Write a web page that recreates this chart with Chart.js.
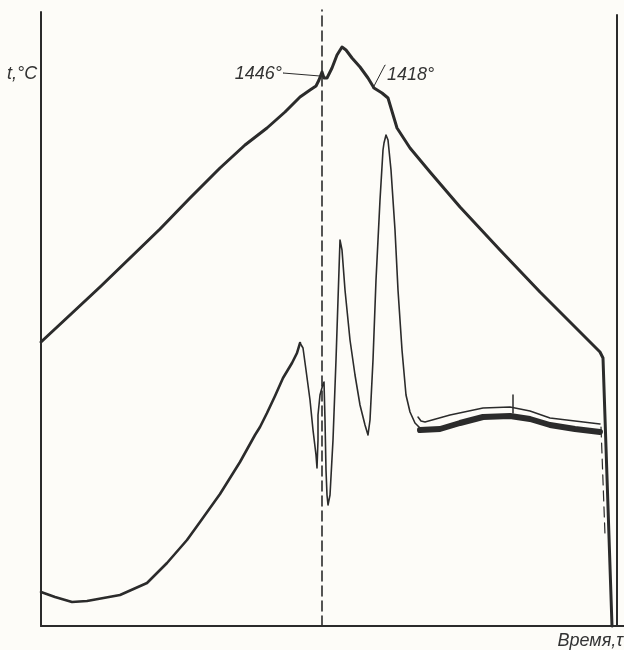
<!DOCTYPE html>
<html lang="ru">
<head>
  <meta charset="UTF-8">
  <title>Термограмма</title>
  <script src="https://cdn.jsdelivr.net/npm/chart.js"></script>
  <style>
    body {
      margin: 0;
      background: #fdfcf8;
    }
    canvas {
      display: block;
    }
  </style>
</head>
<body>
  <canvas id="chart" width="624" height="650"></canvas>
  <script>
    // Values: x = time, y = signal (arbitrary units)
    const heatingX = [0, 29, 59, 89, 119, 149, 179, 204, 226, 244, 259, 269, 275, 278, 281, 283, 286, 291, 296, 301, 305, 311, 319, 327, 333, 341, 347, 356, 369, 389, 419, 459, 499, 529, 559, 562, 571];
    const heatingY = [284, 311, 339, 368, 397, 428, 458, 481, 498, 514, 529, 536, 540, 546, 554, 548, 548, 558, 571, 579, 576, 568, 559, 548, 538, 533, 528, 498, 478, 454, 419, 376, 334, 304, 274, 268, 0];

    const dtaStartX = [0, 14, 31, 46, 79, 106, 126, 146, 159, 179, 199, 214, 219, 226, 234, 242, 251, 256, 259];
    const dtaStartY = [34, 29, 24, 25, 31, 43, 63, 86, 104, 132, 164, 191, 199, 213, 230, 248, 263, 273, 283];

    const dtaPeaksX = [259, 262, 265, 269, 272, 275, 276, 277, 277, 279, 282, 283, 284, 285, 286, 287, 289, 292, 295, 297, 299, 301, 304, 309, 314, 319, 324, 327, 329, 332, 335, 339, 342, 343, 345, 347, 350, 354, 357, 361, 365, 369, 374, 379];
    const dtaPeaksY = [283, 278, 256, 226, 196, 171, 158, 186, 211, 231, 242, 244, 206, 156, 131, 121, 131, 186, 266, 326, 386, 376, 336, 286, 251, 221, 201, 191, 206, 266, 346, 426, 476, 483, 491, 486, 456, 396, 336, 276, 231, 214, 203, 198];

    const baseX = [379, 399, 419, 442, 469, 489, 509, 534, 559];
    const baseY = [196, 197, 203, 209, 210, 207, 201, 197, 194];

    const refX = [377, 380, 384, 409, 442, 469, 489, 509, 534, 559];
    const refY = [209, 205, 204, 211, 218, 219, 215, 208, 205, 202];

    const markX = [472, 472];
    const markY = [231, 213];

    const tailX = [560, 564];
    const tailY = [199, 91];

    const meltX = 281;
    const annoLabels = ['1446°', '1418°'];
    const leader1446X = [242, 279];
    const leader1446Y = [553, 550];
    const leader1418X = [344, 332];
    const leader1418Y = [561, 538];

    const xLabel = 'Время,τ';
    const yLabel = 't,°C';

    const X_MAX = 583;
    const Y_MAX = 616;

    const ink = '#2b2b2b';

    function pts(xs, ys) {
      return xs.map((x, i) => ({ x: x, y: ys[i] }));
    }

    function line(xs, ys, width, dash) {
      return {
        data: pts(xs, ys),
        showLine: true,
        borderColor: ink,
        borderWidth: width,
        borderDash: dash || [],
        pointRadius: 0,
        tension: 0,
        fill: false,
        clip: false,
        borderJoinStyle: 'round',
        borderCapStyle: 'round'
      };
    }

    // Frame: left axis, bottom axis, right border
    const frame = [
      line([0, 0], [0, 614], 2),
      line([0, X_MAX], [0, 0], 2),
      line([576, 576], [0, 611], 2)
    ];

    // Labels drawn next to the axes and the leader lines
    const textPlugin = {
      id: 'texts',
      afterDatasetsDraw(chart) {
        const ctx = chart.ctx;
        const xs = chart.scales.x;
        const ys = chart.scales.y;
        ctx.save();
        ctx.fillStyle = '#333';
        ctx.font = 'italic 18px "Liberation Sans Narrow", "Liberation Sans", Arial, sans-serif';
        ctx.textBaseline = 'alphabetic';
        ctx.textAlign = 'right';
        ctx.fillText(annoLabels[0], xs.getPixelForValue(leader1446X[0]) - 1, ys.getPixelForValue(leader1446Y[0]) + 6);
        ctx.textAlign = 'left';
        ctx.fillText(annoLabels[1], xs.getPixelForValue(leader1418X[0]) + 2, ys.getPixelForValue(leader1418Y[0]) + 15);
        ctx.font = 'italic 18px "Liberation Sans Narrow", "Liberation Sans", Arial, sans-serif';
        ctx.textAlign = 'left';
        ctx.fillText(yLabel, 7, 79);
        ctx.textAlign = 'right';
        ctx.fillText(xLabel, 623, 646);
        ctx.restore();
      }
    };

    new Chart(document.getElementById('chart'), {
      type: 'scatter',
      data: {
        datasets: [
          ...frame,
          line([meltX, meltX], [0, Y_MAX], 1.6, [10, 5]),
          line(heatingX, heatingY, 3),
          line(dtaStartX, dtaStartY, 2.6),
          line(dtaPeaksX, dtaPeaksY, 1.6),
          line(baseX, baseY, 6),
          line(refX, refY, 1.5),
          line(markX, markY, 1.5),
          line(tailX, tailY, 1.2, [10, 6]),
          line(leader1446X, leader1446Y, 1),
          line(leader1418X, leader1418Y, 1)
        ]
      },
      options: {
        responsive: false,
        animation: false,
        layout: { padding: { left: 41, right: 0, top: 10, bottom: 24 } },
        scales: {
          x: { type: 'linear', min: 0, max: X_MAX, display: false },
          y: { type: 'linear', min: 0, max: Y_MAX, display: false }
        },
        plugins: {
          legend: { display: false },
          tooltip: { enabled: false }
        }
      },
      plugins: [textPlugin]
    });
  </script>
</body>
</html>
